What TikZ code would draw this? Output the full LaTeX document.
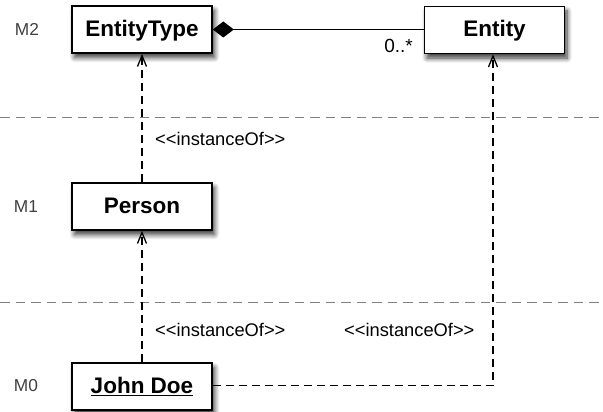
\documentclass[tikz,border=0pt]{standalone}
\usepackage{fontspec}
\setmainfont{Liberation Sans}
\usetikzlibrary{arrows.meta,shadows.blur}
\begin{document}
\begin{tikzpicture}[x=1pt,y=-1pt,
  cls/.style={draw=black, line width=1.6pt, fill=white, minimum width=140pt, minimum height=47pt,
    font=\fontsize{22.5}{25}\selectfont\bfseries, inner sep=0pt, text height=13.5pt, text depth=0pt,
    blur shadow={shadow xshift=2.5pt, shadow yshift=-4.5pt, shadow blur steps=8, shadow blur radius=5pt, shadow opacity=80}},
  lvl/.style={font=\fontsize{17.3}{20}\selectfont, text=black!75, inner sep=0pt},
  stereo/.style={font=\fontsize{18.3}{20}\selectfont, anchor=base west, inner sep=0pt},
  dep/.style={dash pattern=on 8pt off 5pt, line width=1.3pt, -{Straight Barb[length=11pt,width=9pt]}},
  sep/.style={dash pattern=on 9.5pt off 6pt, draw=black!50, line width=1pt}]
\useasboundingbox (0,0) rectangle (603,412);
\draw[sep] (0,118) -- (603,118);
\draw[sep] (0,302) -- (603,302);
\node[cls] (et) at (142,29.5) {EntityType};
\node[cls] (en) at (494.5,30) {Entity};
\node[cls] (pe) at (142,206.5) {Person};
\node[cls] (jd) at (142,386.5) {\underline{John Doe}};
\node[lvl] (m2) at (27,29.5) {M2};
\node[lvl] (m1) at (26,207) {M1};
\node[lvl] (m0) at (26,386) {M0};
\draw[line width=1.3pt, {Diamond[length=21pt,width=16pt]}-] (et.east) -- (en.west |- et.east);
\node[font=\fontsize{19}{21}\selectfont, anchor=base east, inner sep=0pt] (mult) at (413,53) {0..*};
\draw[dep] (pe.north) -- (et.south);
\draw[dep] (jd.north) -- (pe.south);
\coordinate (cr) at (493,385.5);
\draw[dep] (jd.east |- cr) -- (cr) -- (en.south -| cr);
\node[stereo] (s1) at (155,146) {{<}{<}instanceOf{>}{>}};
\node[stereo] (s2) at (155,336) {{<}{<}instanceOf{>}{>}};
\node[stereo] (s3) at (344,336) {{<}{<}instanceOf{>}{>}};
\end{tikzpicture}
\end{document}
